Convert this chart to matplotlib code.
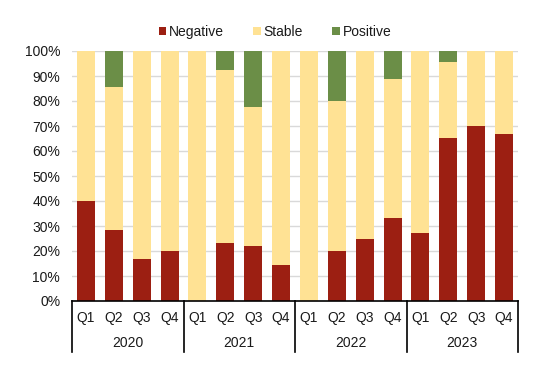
import matplotlib.pyplot as plt
from matplotlib.ticker import PercentFormatter

plt.rcParams['font.family'] = ['Liberation Sans', 'DejaVu Sans']
plt.rcParams['text.color'] = '#1a1a1a'

years = ['2020', '2021', '2022', '2023']
quarters = ['Q1', 'Q2', 'Q3', 'Q4']
negative = [40.0, 28.6, 16.7, 20.0,
            0.0, 23.1, 22.2, 14.3,
            0.0, 20.0, 25.0, 33.3,
            27.3, 65.2, 70.0, 66.7]
positive = [0.0, 14.3, 0.0, 0.0,
            0.0, 7.7, 22.2, 0.0,
            0.0, 20.0, 0.0, 11.1,
            0.0, 4.3, 0.0, 0.0]
stable = [100 - n - p for n, p in zip(negative, positive)]

c_neg = '#9C1F12'
c_sta = '#FFE294'
c_pos = '#6B8E47'

fig = plt.figure(figsize=(5.5, 3.75), dpi=100)
ax = fig.add_axes([72/550, 1 - 301/375, 446/550, 250/375])

x = list(range(len(negative)))
w = 0.645
ax.bar(x, negative, w, color=c_neg, label='Negative', zorder=3)
ax.bar(x, stable, w, bottom=negative, color=c_sta, label='Stable', zorder=3)
ax.bar(x, positive, w, bottom=[n + s for n, s in zip(negative, stable)],
       color=c_pos, label='Positive', zorder=3)

ax.set_xlim(-0.5, len(x) - 0.5)
ax.set_ylim(0, 100)
ax.set_yticks(range(0, 101, 10))
ax.yaxis.set_major_formatter(PercentFormatter(decimals=0))
ax.grid(axis='y', color='#D9D9D9', linewidth=1, zorder=0)
for s in ['top', 'right', 'left']:
    ax.spines[s].set_visible(False)
ax.spines['bottom'].set_color('black')
ax.spines['bottom'].set_linewidth(1.2)
ax.spines['bottom'].set_zorder(4)
ax.tick_params(axis='y', length=0, labelsize=10, pad=8.5, labelcolor='#1a1a1a')
ax.set_xticks(x)
ax.set_xticklabels(quarters * len(years), fontsize=10)
ax.tick_params(axis='x', length=0, pad=7.5, labelcolor='#1a1a1a')

# year labels and separators
for i, yr in enumerate(years):
    ax.text(i * 4 + 1.5, -0.168, yr, transform=ax.get_xaxis_transform(),
            ha='center', va='center', fontsize=10)
for k in range(len(years) + 1):
    ax.plot([k * 4 - 0.5, k * 4 - 0.5], [0, -0.205], color='black', lw=1.2,
            transform=ax.get_xaxis_transform(), clip_on=False)

fig.legend(*ax.get_legend_handles_labels(), loc='center',
           bbox_to_anchor=(0.5, 1 - 32/375), ncol=3, frameon=False,
           fontsize=10, handlelength=0.55, handleheight=0.55, handletextpad=0.2,
           columnspacing=2.1)

fig.savefig('out.png', dpi=100)
